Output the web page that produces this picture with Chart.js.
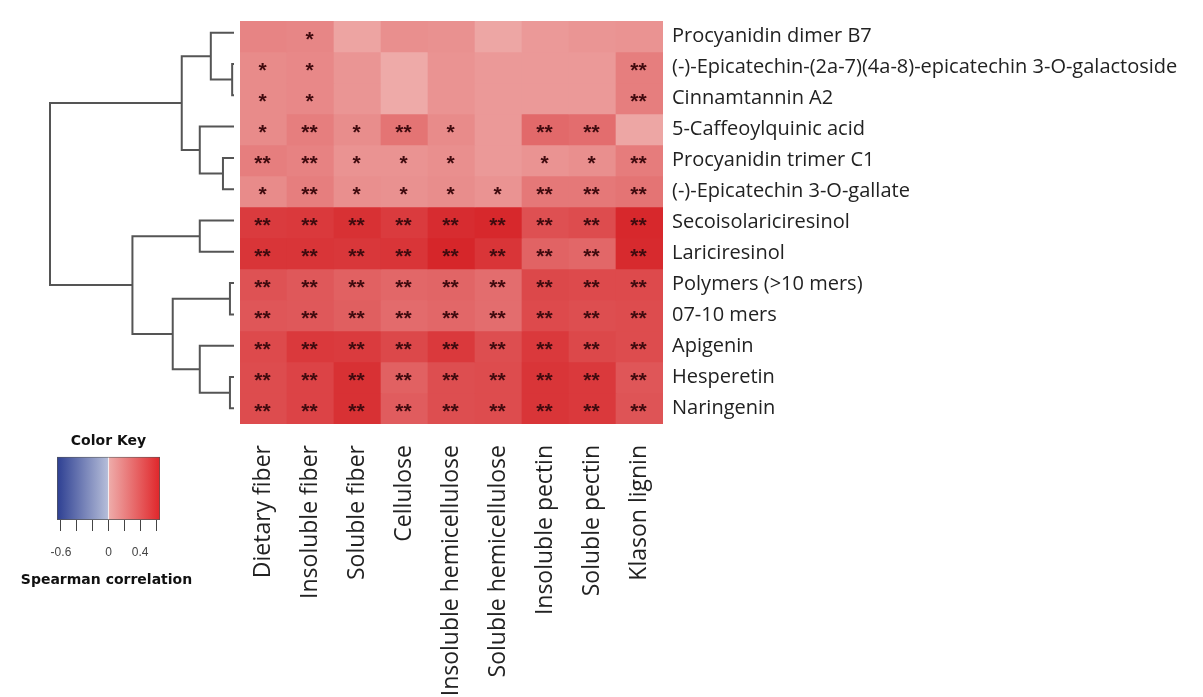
<!DOCTYPE html>
<html>
<head>
<meta charset="utf-8">
<script src="https://cdn.jsdelivr.net/npm/chart.js@4.4.1/dist/chart.umd.min.js"></script>
<style>
  body { margin: 0; background: #fff; }
  #wrap { position: relative; width: 1203px; height: 697px; overflow: hidden; }
  canvas { position: absolute; }
</style>
</head>
<body>
<div id="wrap">
  <canvas id="heat" width="1203" height="697" style="left:0;top:0;width:1203px;height:697px"></canvas>
  <canvas id="tree" width="240" height="697" style="left:0;top:0;width:240px;height:697px"></canvas>
  <canvas id="key" width="240" height="180" style="left:0;top:420px;width:240px;height:180px"></canvas>
</div>
<script>
// columns (fibre fractions) and rows (phenolics), in dendrogram order
const colLabels = ['Dietary fiber', 'Insoluble fiber', 'Soluble fiber', 'Cellulose',
  'Insoluble hemicellulose', 'Soluble hemicellulose', 'Insoluble pectin', 'Soluble pectin', 'Klason lignin'];

const rowLabels = ['Procyanidin dimer B7', '(-)-Epicatechin-(2a-7)(4a-8)-epicatechin 3-O-galactoside',
  'Cinnamtannin A2', '5-Caffeoylquinic acid', 'Procyanidin trimer C1', '(-)-Epicatechin 3-O-gallate',
  'Secoisolariciresinol', 'Lariciresinol', 'Polymers (>10 mers)', '07-10 mers', 'Apigenin',
  'Hesperetin', 'Naringenin'];

// spearman correlation, one array per row
const corr = [
  [0.19, 0.18, 0.04, 0.14, 0.13, 0.03, 0.09, 0.11, 0.12],
  [0.16, 0.17, 0.11, 0.01, 0.12, 0.09, 0.09, 0.09, 0.22],
  [0.16, 0.17, 0.11, 0.01, 0.12, 0.09, 0.09, 0.09, 0.22],
  [0.16, 0.22, 0.15, 0.27, 0.16, 0.09, 0.32, 0.30, 0.03],
  [0.22, 0.20, 0.12, 0.12, 0.14, 0.09, 0.12, 0.14, 0.23],
  [0.16, 0.22, 0.14, 0.13, 0.15, 0.12, 0.25, 0.25, 0.27],
  [0.54, 0.55, 0.59, 0.54, 0.61, 0.63, 0.44, 0.46, 0.63],
  [0.57, 0.57, 0.56, 0.57, 0.64, 0.57, 0.35, 0.33, 0.62],
  [0.43, 0.40, 0.36, 0.33, 0.34, 0.30, 0.48, 0.47, 0.47],
  [0.41, 0.40, 0.37, 0.31, 0.33, 0.30, 0.47, 0.45, 0.46],
  [0.47, 0.55, 0.54, 0.48, 0.55, 0.45, 0.55, 0.48, 0.46],
  [0.46, 0.50, 0.59, 0.36, 0.45, 0.46, 0.57, 0.55, 0.41],
  [0.46, 0.50, 0.59, 0.38, 0.45, 0.46, 0.57, 0.55, 0.42]
];

// significance marks
const signif = [
  ['', '*', '', '', '', '', '', '', ''],
  ['*', '*', '', '', '', '', '', '', '**'],
  ['*', '*', '', '', '', '', '', '', '**'],
  ['*', '**', '*', '**', '*', '', '**', '**', ''],
  ['**', '**', '*', '*', '*', '', '*', '*', '**'],
  ['*', '**', '*', '*', '*', '*', '**', '**', '**'],
  ['**', '**', '**', '**', '**', '**', '**', '**', '**'],
  ['**', '**', '**', '**', '**', '**', '**', '**', '**'],
  ['**', '**', '**', '**', '**', '**', '**', '**', '**'],
  ['**', '**', '**', '**', '**', '**', '**', '**', '**'],
  ['**', '**', '**', '**', '**', '**', '**', '**', '**'],
  ['**', '**', '**', '**', '**', '**', '**', '**', '**'],
  ['**', '**', '**', '**', '**', '**', '**', '**', '**']
];

// row dendrogram, hclust style: negative = leaf (1-based), positive = earlier merge
const mergeLeft = [-2, -1, -5, -4, 2, -7, -9, -12, -11, 7, 6, 5];
const mergeRight = [-3, 1, -6, 3, 4, -8, -10, -13, 8, 9, 10, 11];
const mergeHeight = [0.01, 0.126, 0.06, 0.186, 0.284, 0.186, 0.022, 0.022, 0.186, 0.333, 0.552, 1.0];

// colour key
const keyMin = -0.65, keyMax = 0.65;
const keyTicks = [-0.6, -0.4, -0.2, 0, 0.2, 0.4, 0.6];
const keyTickLabels = ['-0.6', '', '', '0', '', '0.4', ''];

Chart.defaults.font.family = '"Open Sans"';

function mix(a, b, t) {
  return a.map((v, i) => Math.round(v + (b[i] - v) * t));
}
function cellColor(v) {
  let c;
  if (v >= 0) c = mix([238, 172, 170], [214, 36, 40], Math.min(v / keyMax, 1));
  else c = mix([180, 188, 216], [45, 63, 146], Math.min(v / keyMin, 1));
  return 'rgb(' + c.join(',') + ')';
}

// ---- heatmap ----
const starPlugin = {
  id: 'stars',
  afterDatasetsDraw(chart) {
    const { ctx, scales: { x, y } } = chart;
    ctx.save();
    ctx.font = 'bold 21px "Liberation Sans"';
    ctx.fillStyle = '#400b0f';
    ctx.textAlign = 'center';
    ctx.textBaseline = 'alphabetic';
    signif.forEach((row, r) => row.forEach((s, c) => {
      if (!s) return;
      ctx.fillText(s, x.getPixelForValue(c) - 1, y.getPixelForValue(r + 0.5) + 9);
    }));
    ctx.restore();
  }
};

const heatSets = rowLabels.map((name, r) => ({
  label: name,
  data: colLabels.map(() => [r, r + 1]),
  backgroundColor: corr[r].map(cellColor),
  borderWidth: 0,
  grouped: false,
  barPercentage: 1,
  categoryPercentage: 1
}));

new Chart(document.getElementById('heat'), {
  type: 'bar',
  data: { labels: colLabels, datasets: heatSets },
  options: {
    responsive: false,
    animation: false,
    layout: { padding: { left: 240, top: 17, right: 0, bottom: 0 } },
    plugins: { legend: { display: false }, tooltip: { enabled: false } },
    scales: {
      x: {
        type: 'category',
        offset: true,
        grid: { display: false, tickLength: 0 },
        border: { display: false },
        ticks: { minRotation: 90, maxRotation: 90, autoSkip: false, padding: 21, color: '#222', font: { size: 23 } },
        afterFit(s) { s.height = 273; }
      },
      y: {
        type: 'linear',
        position: 'right',
        min: 0,
        max: 13,
        reverse: true,
        grid: { display: false, tickLength: 0 },
        border: { display: false },
        afterBuildTicks(s) { s.ticks = rowLabels.map((_, i) => ({ value: i + 0.5 })); },
        afterFit(s) { s.width = 540; },
        ticks: { autoSkip: false, padding: 9, color: '#222', font: { size: 20 }, callback: (v, i) => rowLabels[i] }
      }
    }
  },
  plugins: [starPlugin]
});

// ---- dendrogram ----
const nodeY = [], nodeH = [];
function childPos(id) {
  if (id < 0) return { y: -id - 0.5, h: 0 };
  return { y: nodeY[id - 1], h: nodeH[id - 1] };
}
const treeSets = mergeHeight.map((h, i) => {
  const a = childPos(mergeLeft[i]), b = childPos(mergeRight[i]);
  nodeY.push((a.y + b.y) / 2);
  nodeH.push(h);
  return {
    data: [{ x: a.h, y: a.y }, { x: h, y: a.y }, { x: h, y: b.y }, { x: b.h, y: b.y }],
    showLine: true,
    borderColor: '#555',
    borderWidth: 2,
    pointRadius: 0,
    clip: false
  };
});

new Chart(document.getElementById('tree'), {
  type: 'scatter',
  data: { datasets: treeSets },
  options: {
    responsive: false,
    animation: false,
    layout: { padding: { left: 50, right: 6, top: 17, bottom: 273 } },
    plugins: { legend: { display: false }, tooltip: { enabled: false } },
    scales: {
      x: { type: 'linear', display: false, min: 0, max: 1, reverse: true },
      y: { type: 'linear', display: false, min: 0, max: 13, reverse: true }
    }
  }
});

// ---- colour key ----
function keyGradient(ctx) {
  const area = ctx.chart.chartArea;
  if (!area) return '#ddd';
  const g = ctx.chart.ctx.createLinearGradient(area.left, 0, area.right, 0);
  g.addColorStop(0, '#2d3f92');
  g.addColorStop(0.49, '#b4bcd8');
  g.addColorStop(0.5, '#f6ecee');
  g.addColorStop(0.51, '#eeaaa8');
  g.addColorStop(1, '#e0262a');
  return g;
}

// axis caption wider than the key itself, so it is written under the axis here
const keyCaption = {
  id: 'keyCaption',
  afterDraw(chart) {
    const { ctx, chartArea } = chart;
    ctx.save();
    ctx.font = 'bold 14px "DejaVu Sans"';
    ctx.fillStyle = '#111';
    ctx.textAlign = 'center';
    ctx.textBaseline = 'middle';
    ctx.fillText('Spearman correlation', (chartArea.left + chartArea.right) / 2 - 2, chartArea.bottom + 60);
    ctx.restore();
  }
};

new Chart(document.getElementById('key'), {
  type: 'bar',
  data: {
    labels: [''],
    datasets: [{
      data: [[keyMin, keyMax]],
      backgroundColor: keyGradient,
      borderColor: '#555',
      borderWidth: 1,
      borderSkipped: false,
      barPercentage: 1,
      categoryPercentage: 1
    }]
  },
  options: {
    indexAxis: 'y',
    responsive: false,
    animation: false,
    layout: { padding: { left: 57, right: 80, top: 13, bottom: 0 } },
    plugins: {
      legend: { display: false },
      tooltip: { enabled: false },
      title: {
        display: true,
        text: 'Color Key',
        color: '#111',
        padding: { top: 0, bottom: 7 },
        font: { family: 'DejaVu Sans', size: 14, weight: 'bold' }
      }
    },
    scales: {
      x: {
        type: 'linear',
        min: keyMin,
        max: keyMax,
        afterBuildTicks(s) { s.ticks = keyTicks.map(v => ({ value: v })); },
        afterFit(s) { s.height = 80; },
        grid: { drawOnChartArea: false, tickLength: 11, tickColor: '#444' },
        border: { display: false },
        ticks: {
          autoSkip: false, minRotation: 0, maxRotation: 0, padding: 14, color: '#444',
          font: { family: 'Liberation Sans', size: 12 }, callback: (v, i) => keyTickLabels[i]
        }
      },
      y: { display: false }
    }
  },
  plugins: [keyCaption]
});
</script>
</body>
</html>
